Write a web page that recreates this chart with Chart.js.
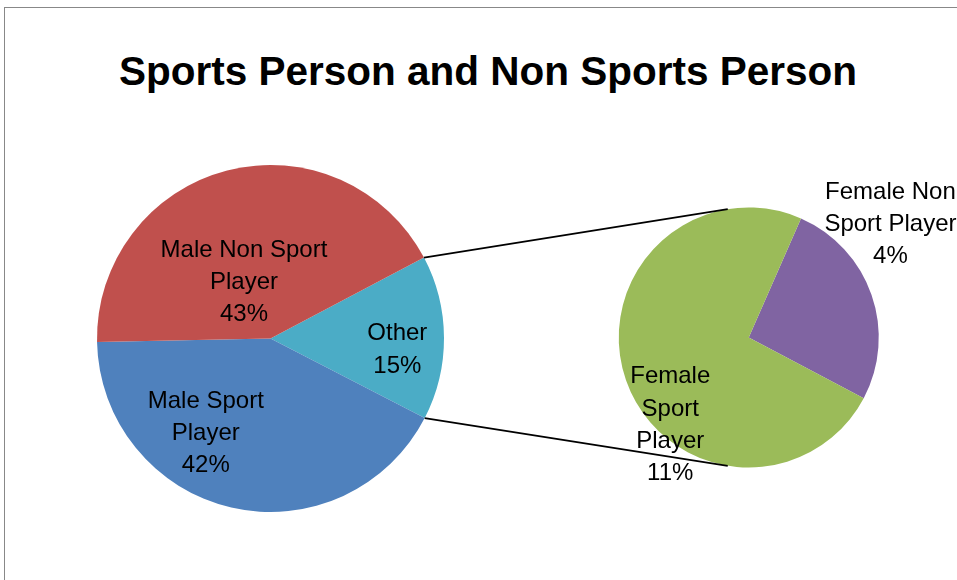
<!DOCTYPE html>
<html>
<head>
<meta charset="utf-8">
<script src="https://cdn.jsdelivr.net/npm/chart.js@4/dist/chart.umd.min.js"></script>
<style>
  html, body { margin: 0; padding: 0; background: #fff; overflow: hidden; }
  body { width: 957px; height: 580px; position: relative; }
  #frame { position: absolute; left: 4px; top: 7px; width: 1200px; height: 1000px; border: 1px solid #888888; box-sizing: border-box; }
  #title { position: absolute; left: 0; width: 976px; top: 47px; text-align: center;
           font: bold 40.5px "Liberation Sans", Arial, sans-serif; line-height: 48px; color: #000; white-space: nowrap; }
  canvas { position: absolute; left: 0; top: 0; }
</style>
</head>
<body>
<div id="frame"></div>
<div id="title"></div>
<canvas id="mainPie" width="957" height="580"></canvas>
<canvas id="subPie" width="957" height="580"></canvas>
<script>
// ---- data ----
const titleText = 'Sports Person and Non Sports Person';
const mainCategories = ['Other', 'Male Sport Player', 'Male Non Sport Player'];
const mainValues = [15.3, 42.1, 42.6];
const subCategories = ['Female Non Sport Player', 'Female Sport Player'];
const subValues = [4.0, 11.3];

// ---- styles ----
const mainColors = ['#4BACC6', '#4F81BD', '#C0504D'];
const subColors = ['#8064A2', '#9BBB59'];
const labelFont = '24px "Liberation Sans", Arial, sans-serif';
const lineBreaks = {
  'Male Non Sport Player': ['Male Non Sport', 'Player'],
  'Male Sport Player': ['Male Sport', 'Player'],
  'Other': ['Other'],
  'Female Non Sport Player': ['Female Non', 'Sport Player'],
  'Female Sport Player': ['Female', 'Sport', 'Player']
};
const mainLabelOffsets = [[0.731, 0.054], [-0.373, 0.537], [-0.153, -0.335]];
const subLabelOffsets = [[1.090, -0.885], [-0.604, 0.659]];

document.getElementById('title').textContent = titleText;
const grandTotal = mainValues.reduce((a, b) => a + b, 0);

function labelPlugin(id, offsets) {
  return {
    id,
    afterDatasetsDraw(chart) {
      const meta = chart.getDatasetMeta(0);
      const ctx = chart.ctx;
      const vals = chart.data.datasets[0].data;
      ctx.save();
      ctx.font = labelFont;
      ctx.fillStyle = '#000';
      ctx.textAlign = 'center';
      ctx.textBaseline = 'alphabetic';
      meta.data.forEach((arc, i) => {
        const p = arc.getProps(['x', 'y', 'outerRadius'], true);
        const name = chart.data.labels[i];
        const pct = Math.round(vals[i] / grandTotal * 100) + '%';
        const lines = (lineBreaks[name] || [name]).concat([pct]);
        const cx = p.x + offsets[i][0] * p.outerRadius;
        const cy = p.y + offsets[i][1] * p.outerRadius;
        const capH = 17, lh = 32.3;
        const blockH = (lines.length - 1) * lh + capH;
        const by = cy - blockH / 2 + capH;
        lines.forEach((t, k) => ctx.fillText(t, cx, by + k * lh));
      });
      ctx.restore();
    }
  };
}

const commonOpts = {
  responsive: false,
  animation: false,
  events: [],
  plugins: { legend: { display: false }, tooltip: { enabled: false }, title: { display: false } }
};

const mainChart = new Chart(document.getElementById('mainPie'), {
  type: 'pie',
  data: {
    labels: mainCategories,
    datasets: [{ data: mainValues, backgroundColor: mainColors, borderWidth: 0 }]
  },
  options: Object.assign({}, commonOpts, {
    rotation: 62.2,
    layout: { padding: { left: 97, right: 513, top: 165, bottom: 68 } }
  }),
  plugins: [labelPlugin('mainLabels', mainLabelOffsets)]
});

const connectorPlugin = {
  id: 'connectors',
  afterDatasetsDraw(chart) {
    const other = mainChart.getDatasetMeta(0).data[0].getProps(['x', 'y', 'startAngle', 'endAngle', 'outerRadius'], true);
    const sub = chart.getDatasetMeta(0).data[0].getProps(['x', 'y', 'outerRadius'], true);
    const ang = 99.3 * Math.PI / 180;
    const ctx = chart.ctx;
    ctx.save();
    ctx.strokeStyle = '#000';
    ctx.lineWidth = 1.8;
    ctx.beginPath();
    ctx.moveTo(other.x + other.outerRadius * Math.cos(other.startAngle), other.y + other.outerRadius * Math.sin(other.startAngle));
    ctx.lineTo(sub.x + sub.outerRadius * Math.cos(-ang), sub.y + sub.outerRadius * Math.sin(-ang));
    ctx.moveTo(other.x + other.outerRadius * Math.cos(other.endAngle), other.y + other.outerRadius * Math.sin(other.endAngle));
    ctx.lineTo(sub.x + sub.outerRadius * Math.cos(ang), sub.y + sub.outerRadius * Math.sin(ang));
    ctx.stroke();
    ctx.restore();
  }
};

const subChart = new Chart(document.getElementById('subPie'), {
  type: 'pie',
  data: {
    labels: subCategories,
    datasets: [{ data: subValues, backgroundColor: subColors, borderWidth: 0 }]
  },
  options: Object.assign({}, commonOpts, {
    rotation: 23.7,
    layout: { padding: { left: 618.5, right: 78, top: 207.5, bottom: 112.5 } }
  }),
  plugins: [connectorPlugin, labelPlugin('subLabels', subLabelOffsets)]
});
</script>
</body>
</html>
